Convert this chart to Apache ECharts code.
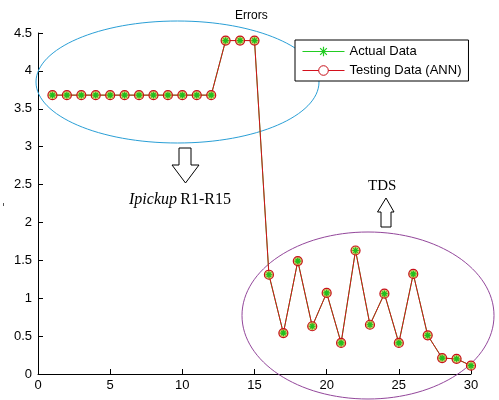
<!DOCTYPE html>
<html>
<head>
<meta charset="utf-8">
<script src="https://cdn.jsdelivr.net/npm/echarts@6/dist/echarts.min.js"></script>
<style>html,body{margin:0;padding:0;background:#fff}#c{width:499px;height:400px}</style>
</head>
<body>
<div id="c"></div>
<script>
const sampleIdx = [1,2,3,4,5,6,7,8,9,10,11,12,13,14,15,16,17,18,19,20,21,22,23,24,25,26,27,28,29,30];
const actualData = [3.68,3.68,3.68,3.68,3.68,3.68,3.68,3.68,3.68,3.68,3.68,3.68,4.40,4.40,4.40,1.31,0.54,1.49,0.63,1.07,0.41,1.63,0.65,1.06,0.41,1.32,0.51,0.21,0.20,0.11];
const testingData = [3.68,3.68,3.68,3.68,3.68,3.68,3.68,3.68,3.68,3.68,3.68,3.68,4.40,4.40,4.40,1.31,0.54,1.49,0.63,1.07,0.41,1.63,0.65,1.06,0.41,1.32,0.51,0.21,0.20,0.11];
const xTicks = [0,5,10,15,20,25,30];
const yTicks = [0,0.5,1,1.5,2,2.5,3,3.5,4,4.5];

const pairs = (ys) => sampleIdx.map((x,i)=>[x, ys[i]]);
const star = 'path://M0,-10 L0,10 M-10,0 L10,0 M-7,-7 L7,7 M-7,7 L7,-7';
const sans = 'Liberation Sans, Arial, sans-serif';
const serif = 'Liberation Serif, Times New Roman, serif';

const chart = echarts.init(document.getElementById('c'), null, {renderer:'canvas'});
chart.setOption({
  animation:false,
  backgroundColor:'#fff',
  grid:{left:38, right:28, top:33, bottom:26, containLabel:false},
  xAxis:{type:'value', min:0, max:30, interval:5,
    axisLine:{lineStyle:{color:'#000', width:1}},
    axisTick:{inside:true, length:5, lineStyle:{color:'#000'}},
    axisLabel:{color:'#000', fontFamily:sans, fontSize:13, margin:5,
      formatter:(v)=> xTicks.includes(v)? String(v):''},
    splitLine:{show:false}},
  yAxis:{type:'value', min:0, max:4.5, interval:0.5,
    axisLine:{show:true, lineStyle:{color:'#000', width:1}},
    axisTick:{show:true, inside:true, length:5, lineStyle:{color:'#000'}},
    axisLabel:{color:'#000', fontFamily:sans, fontSize:13, margin:6,
      formatter:(v)=> yTicks.includes(v)? String(v):''},
    splitLine:{show:false}},
  legend:{
    left:295, top:40, orient:'vertical',
    data:[
      {name:'Actual Data', lineStyle:{width:1, color:'#22cc22'}, itemStyle:{color:'#22cc22', borderColor:'#22cc22', borderWidth:1.2}},
      {name:'Testing Data (ANN)', lineStyle:{width:1, color:'#d4101c'}, itemStyle:{color:'#fff', borderColor:'#c8101a', borderWidth:1}}
    ],
    backgroundColor:'#fff', borderColor:'#000', borderWidth:1, borderRadius:0,
    padding:[5,7,4,7], itemWidth:42, itemHeight:12, itemGap:6,
    textStyle:{color:'#000', fontFamily:sans, fontSize:13}
  },
  series:[
    {name:'Actual Data', type:'line', data:pairs(actualData), symbol:star, symbolSize:8,
      showSymbol:true, lineStyle:{color:'#22cc22', width:1},
      itemStyle:{color:'#22cc22', borderColor:'#22cc22', borderWidth:1.2}, z:2},
    {name:'Testing Data (ANN)', type:'line', data:pairs(testingData), symbol:'circle', symbolSize:9,
      lineStyle:{color:'#d4101c', width:1},
      itemStyle:{color:'rgba(205,195,80,0.75)', borderColor:'#c8101a', borderWidth:1.2}, z:3},
    {name:'Actual Data', type:'line', data:pairs(actualData), symbol:star, symbolSize:6,
      lineStyle:{opacity:0}, itemStyle:{color:'#22cc22', borderColor:'#1fbf1f', borderWidth:1.2}, z:4}
  ],
  graphic:[
    {type:'text', left:235, top:10, style:{text:'Errors', fill:'#000', font:'12px '+sans}},
    {type:'ellipse', shape:{cx:177.5, cy:82, rx:141.5, ry:61}, style:{fill:'none', stroke:'#2a9fd6', lineWidth:1}, z:1},
    {type:'ellipse', shape:{cx:368, cy:315.5, rx:126, ry:83.5}, style:{fill:'none', stroke:'#93479b', lineWidth:1}, z:1},
    {type:'polygon', shape:{points:[[179,148],[191,148],[191,165],[199,165],[185.5,183],[172,165],[179,165]]},
      style:{fill:'#fff', stroke:'#000', lineWidth:1}},
    {type:'polygon', shape:{points:[[381,227],[391,227],[391,212],[394,212],[386,198],[377.5,212],[381,212]]},
      style:{fill:'#fff', stroke:'#000', lineWidth:1}},
    {type:'text', left:129, top:192, style:{
      text:'{i|Ipickup} {n|R1-R15}', fill:'#000',
      rich:{i:{fontFamily:serif, fontStyle:'italic', fontSize:16, fill:'#000'}, n:{fontFamily:serif, fontSize:16, fill:'#000'}}}},
    {type:'text', left:368, top:179, style:{text:'TDS', fill:'#000', font:'15px '+serif}},
    {type:'rect', shape:{x:3, y:203, width:1, height:3}, style:{fill:'#555'}}
  ]
});
</script>
</body>
</html>
